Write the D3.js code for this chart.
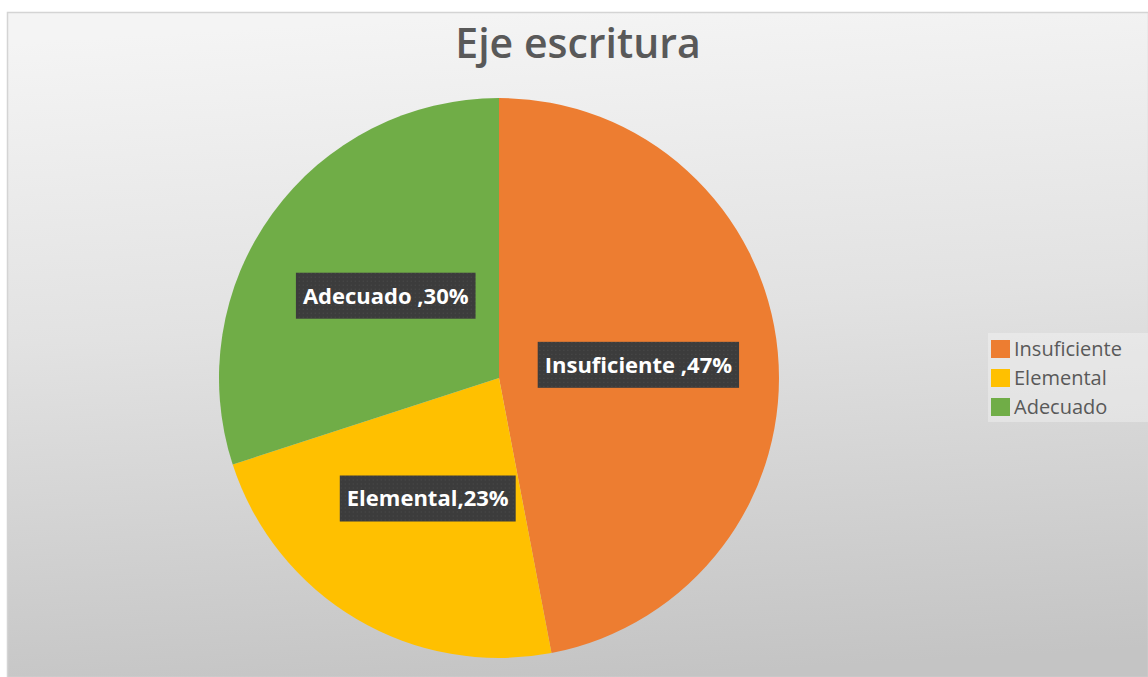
<!DOCTYPE html>
<html>
<head>
<meta charset="utf-8">
<script src="https://cdn.jsdelivr.net/npm/d3@7"></script>
<style>
  body { margin: 0; background: #ffffff; }
  svg { display: block; }
</style>
</head>
<body>
<div id="chart"></div>
<script>
// Daten
const categories = ["Insuficiente", "Elemental", "Adecuado"];
const values = [47, 23, 30];
const labels = ["Insuficiente ,47%", "Elemental,23%", "Adecuado ,30%"];
const colors = ["#ED7D31", "#FFC000", "#70AD47"];

const W = 1148, H = 677;

const svg = d3.select("#chart")
    .append("svg")
    .attr("width", W)
    .attr("height", H);

const defs = svg.append("defs");

// Hintergrund-Verlauf
const grad = defs.append("linearGradient")
    .attr("id", "bg")
    .attr("x1", "0.45").attr("y1", "0")
    .attr("x2", "0.55").attr("y2", "1");
grad.append("stop").attr("offset", "0%").attr("stop-color", "#f4f4f4");
grad.append("stop").attr("offset", "45%").attr("stop-color", "#e2e2e2");
grad.append("stop").attr("offset", "100%").attr("stop-color", "#c4c4c4");

// Punktmuster für die Beschriftungen
const pat = defs.append("pattern")
    .attr("id", "dots")
    .attr("width", 4).attr("height", 4)
    .attr("patternUnits", "userSpaceOnUse");
pat.append("rect").attr("width", 4).attr("height", 4).attr("fill", "#3c3c3c");
pat.append("rect").attr("x", 1).attr("y", 1).attr("width", 1).attr("height", 1).attr("fill", "#4d4d4d");

// Diagrammfläche
svg.append("rect")
    .attr("x", 7.5).attr("y", 12.5)
    .attr("width", W - 7).attr("height", H - 12)
    .attr("fill", "url(#bg)")
    .attr("stroke", "#d4d4d4")
    .attr("stroke-width", 1.5);

// Titel
svg.append("text")
    .attr("x", 578)
    .attr("y", 58)
    .attr("text-anchor", "middle")
    .attr("font-family", "'Open Sans', sans-serif")
    .attr("font-weight", 600)
    .attr("font-size", "41px")
    .attr("fill", "#595959")
    .text("Eje escritura");

// Kreisdiagramm
const cx = 499, cy = 378, r = 280;

const pie = d3.pie().sort(null).value(d => d);
const arcs = pie(values);
const arc = d3.arc().innerRadius(0).outerRadius(r);
const labelArc = d3.arc().innerRadius(r * 0.5).outerRadius(r * 0.5);

const g = svg.append("g").attr("transform", `translate(${cx},${cy})`);

g.selectAll(".slice")
    .data(arcs)
    .join("path")
    .attr("class", "slice")
    .attr("d", arc)
    .attr("fill", (d, i) => colors[i]);

// Datenbeschriftungen
const lab = g.selectAll(".lab")
    .data(arcs)
    .join("g")
    .attr("class", "lab")
    .attr("transform", d => `translate(${labelArc.centroid(d)})`);

lab.each(function (d, i) {
    const sel = d3.select(this);
    const t = sel.append("text")
        .attr("text-anchor", "middle")
        .attr("dy", "0.36em")
        .attr("font-family", "'Open Sans', sans-serif")
        .attr("font-weight", 700)
        .attr("font-size", "22px")
        .attr("fill", "#ffffff")
        .text(labels[i]);
    const w = t.node().getComputedTextLength();
    sel.insert("rect", "text")
        .attr("x", -w / 2 - 7)
        .attr("y", -23)
        .attr("width", w + 14)
        .attr("height", 46)
        .attr("fill", "url(#dots)");
});

// Legende
const lx = 991, ly = 340, step = 29;

svg.append("rect")
    .attr("x", 988).attr("y", 333)
    .attr("width", W - 988).attr("height", 89)
    .attr("fill", "#ffffff")
    .attr("opacity", 0.3);

const leg = svg.selectAll(".leg")
    .data(categories)
    .join("g")
    .attr("class", "leg")
    .attr("transform", (d, i) => `translate(${lx},${ly + i * step})`);

leg.append("rect")
    .attr("width", 19).attr("height", 18)
    .attr("fill", (d, i) => colors[i]);

leg.append("text")
    .attr("x", 23)
    .attr("y", 9)
    .attr("dy", "0.36em")
    .attr("font-family", "'Open Sans', sans-serif")
    .attr("font-size", "20px")
    .attr("fill", "#595959")
    .text(d => d);
</script>
</body>
</html>
